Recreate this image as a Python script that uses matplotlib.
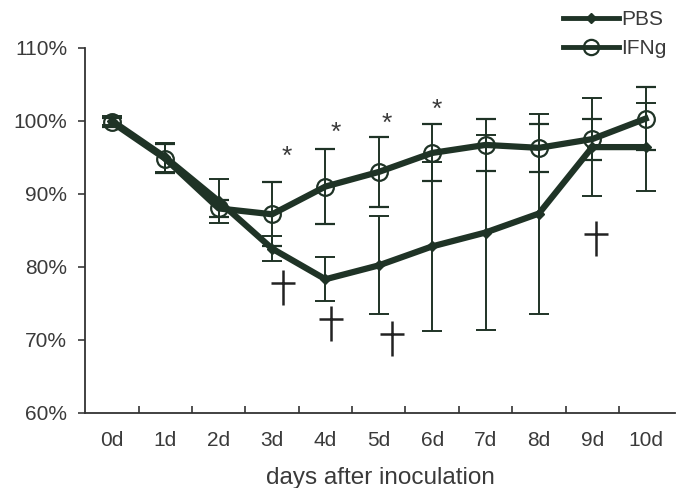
import numpy as np
import matplotlib.pyplot as plt
from matplotlib.lines import Line2D
from matplotlib.path import Path

plt.rcParams['font.family'] = ['Liberation Sans', 'DejaVu Sans']

# data
days = ["0d", "1d", "2d", "3d", "4d", "5d", "6d", "7d", "8d", "9d", "10d"]
pbs = [100.0, 95.0, 89.0, 82.5, 78.3, 80.2, 82.8, 84.7, 87.3, 96.4, 96.4]
pbs_err = [0.6, 2.0, 3.0, 1.7, 3.0, 6.7, 11.6, 13.4, 13.7, 6.7, 6.0]
ifng = [99.8, 94.8, 88.0, 87.2, 91.0, 93.0, 95.6, 96.7, 96.3, 97.5, 100.3]
ifng_err = [0.6, 2.0, 1.2, 4.4, 5.1, 4.8, 3.9, 3.6, 3.3, 2.8, 4.3]

# significance marks (x in day units, y in %)
star_x = [3.27, 4.19, 5.15, 6.08]
star_y = [95.0, 98.4, 99.6, 101.5]
dagger_x = [3.2, 4.1, 5.25, 9.07]
dagger_y = [77.8, 72.8, 70.8, 84.5]

col = '#1f3326'
txt = '#3a3a3a'
x = np.arange(len(days))

# dagger-like cross used for the second significance mark
dagger = Path([(-0.5, 0), (0.5, 0), (0, 0.55), (0, -0.95)],
              [Path.MOVETO, Path.LINETO, Path.MOVETO, Path.LINETO])

fig = plt.figure(figsize=(6.77, 4.88), dpi=100)
ax = fig.add_axes([0.126, 0.154, 0.871, 0.748])

ax.errorbar(x, pbs, yerr=pbs_err, color=col, lw=4.5, marker='D', ms=5,
            ecolor=col, elinewidth=1.4, capsize=7, capthick=1.4, zorder=3)
ax.errorbar(x, ifng, yerr=ifng_err, color=col, lw=4.5, marker='o', ms=12,
            mfc='none', mew=1.6, ecolor=col, elinewidth=1.4, capsize=7,
            capthick=1.4, zorder=4)

for sx, sy in zip(star_x, star_y):
    ax.text(sx, sy, '*', fontsize=19, color=txt, ha='center', va='center')
ax.plot(dagger_x, dagger_y, ls='none', marker=dagger, ms=32, mew=1.8,
        color='#222222', zorder=5)

ax.set_xlim(-0.5, 10.55)
ax.set_ylim(60, 110)
ax.set_yticks([60, 70, 80, 90, 100, 110])
ax.set_yticklabels(['60%', '70%', '80%', '90%', '100%', '110%'])
ax.set_xticks(x)
ax.set_xticklabels(days)
ax.set_xticks(np.arange(0.5, 10.5, 1), minor=True)

ax.spines['top'].set_visible(False)
ax.spines['right'].set_visible(False)
ax.spines['left'].set_color('#333333')
ax.spines['bottom'].set_color('#333333')
ax.spines['left'].set_linewidth(1.3)
ax.spines['bottom'].set_linewidth(1.3)

ax.tick_params(axis='y', direction='out', length=5, width=1.2,
               labelsize=15, colors=txt, pad=8)
ax.tick_params(axis='x', which='major', length=0, labelsize=15,
               colors=txt, pad=13)
ax.tick_params(axis='x', which='minor', direction='in', length=5,
               width=1.2, color='#333333')

ax.set_xlabel('days after inoculation', fontsize=17.5, color=txt,
              labelpad=12)

handles = [
    Line2D([], [], color=col, lw=3.5, marker='D', ms=5),
    Line2D([], [], color=col, lw=3.5, marker='o', ms=11, mfc='none', mew=1.6),
]
fig.legend(handles, ['PBS', 'IFNg'], loc='upper right',
           bbox_to_anchor=(1.0, 1.0), frameon=False, fontsize=15,
           handlelength=2.7, handletextpad=0.1, labelspacing=0.45,
           borderaxespad=0.1, labelcolor=txt)

plt.savefig('out.png', dpi=100)
